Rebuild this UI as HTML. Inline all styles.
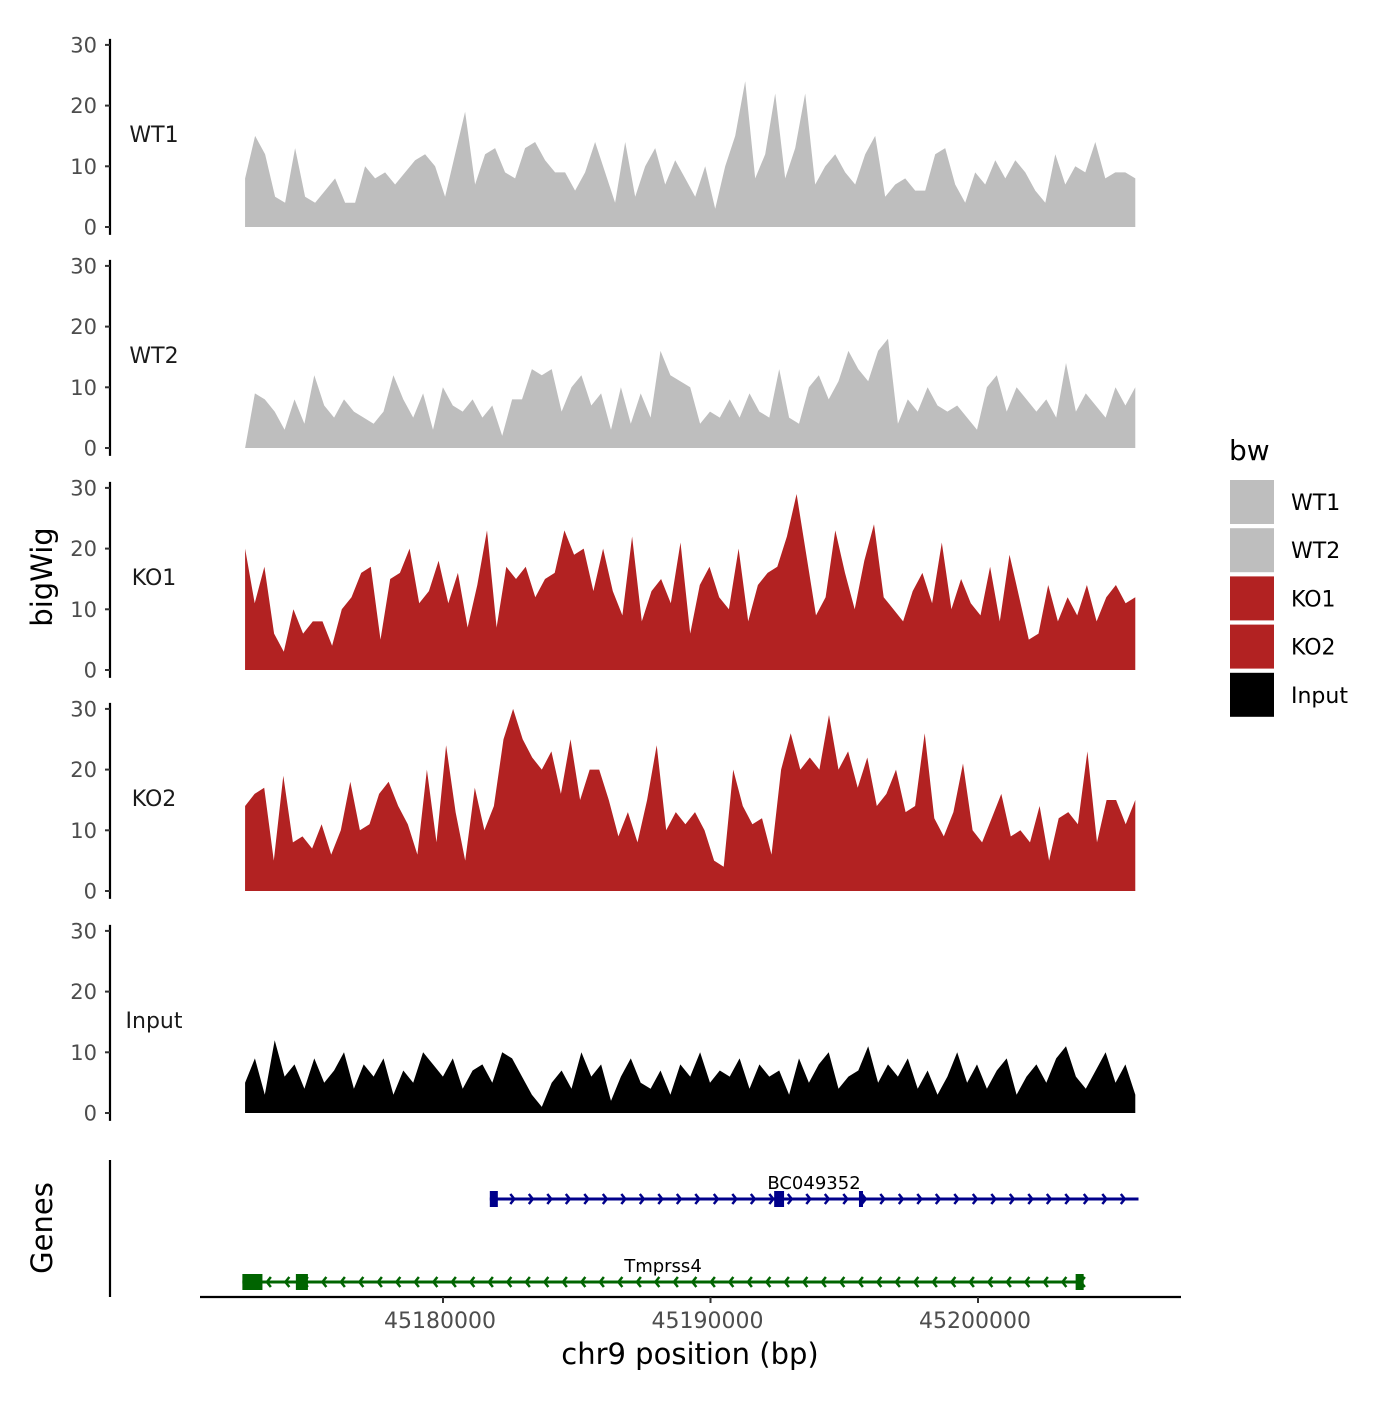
<!DOCTYPE html>
<html><head><meta charset="utf-8"><style>
body{margin:0;background:#fff}
svg text{font-family:"DejaVu Sans","Liberation Sans",sans-serif}
</style></head><body>
<svg id="chart" width="1400" height="1400" xmlns="http://www.w3.org/2000/svg"></svg>
<script>
const trackNames=["WT1","WT2","KO1","KO2","Input"];
const trackColors=["#bebebe","#bebebe","#b22222","#b22222","#000000"];
const wt1=[8,15,12,5,4,13,5,4,6,8,4,4,10,8,9,7,9,11,12,10,5,12,19,7,12,13,9,8,13,14,11,9,9,6,9,14,9,4,14,5,10,13,7,11,8,5,10,3,10,15,24,8,12,22,8,13,22,7,10,12,9,7,12,15,5,7,8,6,6,12,13,7,4,9,7,11,8,11,9,6,4,12,7,10,9,14,8,9,9,8];
const wt2=[0,9,8,6,3,8,4,12,7,5,8,6,5,4,6,12,8,5,9,3,10,7,6,8,5,7,2,8,8,13,12,13,6,10,12,7,9,3,10,4,9,5,16,12,11,10,4,6,5,8,5,9,6,5,13,5,4,10,12,8,11,16,13,11,16,18,4,8,6,10,7,6,7,5,3,10,12,6,10,8,6,8,5,14,6,9,7,5,10,7,10];
const ko1=[20,11,17,6,3,10,6,8,8,4,10,12,16,17,5,15,16,20,11,13,18,11,16,7,14,23,7,17,15,17,12,15,16,23,19,20,13,20,13,9,22,8,13,15,11,21,6,14,17,12,10,20,8,14,16,17,22,29,19,9,12,23,16,10,18,24,12,10,8,13,16,11,21,10,15,11,9,17,8,19,12,5,6,14,8,12,9,14,8,12,14,11,12];
const ko2=[14,16,17,5,19,8,9,7,11,6,10,18,10,11,16,18,14,11,6,20,8,24,13,5,17,10,14,25,30,25,22,20,23,16,25,15,20,20,15,9,13,8,15,24,10,13,11,13,10,5,4,20,14,11,12,6,20,26,20,22,20,29,20,23,17,22,14,16,20,13,14,26,12,9,13,21,10,8,12,16,9,10,8,14,5,12,13,11,23,8,15,15,11,15];
const inputSig=[5,9,3,12,6,8,4,9,5,7,10,4,8,6,9,3,7,5,10,8,6,9,4,7,8,5,10,9,6,3,1,5,7,4,10,6,8,2,6,9,5,4,7,3,8,6,10,5,7,6,9,4,8,6,7,3,9,5,8,10,4,6,7,11,5,8,6,9,4,7,3,6,10,5,8,4,7,9,3,6,8,5,9,11,6,4,7,10,5,8,3];
const seriesValues=[wt1,wt2,ko1,ko2,inputSig];
const yTicks=[0,10,20,30];
const xTicks=[45180000,45190000,45200000];
const signalStart=45172600, signalEnd=45205880;
const genes=["BC049352","Tmprss4"];
const geneStarts=[45181750,45172500];
const geneEnds=[45206000,45203900];
const geneStrands=[1,-1];
const geneColors=["#00008b","#006400"];
const exonStarts=[[45181750,45192380,45195550],[45172500,45174500,45203650]];
const exonEnds=[[45182050,45192750,45195700],[45173250,45174950,45203950]];

const NS="http://www.w3.org/2000/svg";
const svg=document.getElementById("chart");
function mk(tag,attrs,parent){const e=document.createElementNS(NS,tag);for(const k in attrs)e.setAttribute(k,attrs[k]);(parent||svg).appendChild(e);return e;}
function xScale(bp){return 443+(bp-45180000)*0.02675;}
const baselines=[227,448,670,891,1113];
function yScale(v,i){return baselines[i]-v*6.07;}

trackNames.forEach((nm,i)=>{
  const g=mk("g",{});
  
  
  const ax=mk("line",{x1:110,x2:110,y1:yScale(31,i),y2:yScale(-1.3,i),stroke:"#000","stroke-width":2.2},g);
  
  
  yTicks.forEach(t=>{
    mk("line",{x1:105,x2:110,y1:yScale(t,i),y2:yScale(t,i),stroke:"#333","stroke-width":2},g);
    const tx=mk("text",{x:97,y:yScale(t,i)+7.5,"text-anchor":"end","font-size":21,fill:"#4d4d4d"},g);
    tx.textContent=t;
    
    
  });
  const lb=mk("text",{x:154,y:baselines[i]-85,"text-anchor":"middle","font-size":22,fill:"#1a1a1a"},g);
  lb.textContent=nm;
  
  
  const vals=seriesValues[i];const n=vals.length;
  let d="M"+xScale(signalStart)+","+baselines[i];
  vals.forEach((v,k)=>{const bp=signalStart+(signalEnd-signalStart)*k/(n-1);d+=" L"+xScale(bp).toFixed(1)+","+yScale(v,i).toFixed(1);});
  d+=" L"+xScale(signalEnd)+","+baselines[i]+" Z";
  const p=mk("path",{d:d,fill:trackColors[i]},g);
  
  
});

const yt=mk("text",{x:0,y:0,transform:"translate(52,577) rotate(-90)","text-anchor":"middle","font-size":29,fill:"#000"});
yt.textContent="bigWig";


const gt=mk("text",{x:0,y:0,transform:"translate(52,1228) rotate(-90)","text-anchor":"middle","font-size":29,fill:"#000"});
gt.textContent="Genes";


const gax=mk("line",{x1:110,x2:110,y1:1160,y2:1297,stroke:"#000","stroke-width":2.2});



const geneY=[1199,1282];
genes.forEach((gn,i)=>{
  const g=mk("g",{});
  
  
  const y=geneY[i],c=geneColors[i],x1=xScale(geneStarts[i]),x2=xScale(geneEnds[i]);
  mk("line",{x1:x1,x2:x2,y1:y,y2:y,stroke:c,"stroke-width":3},g);
  for(let x=x1+6;x<=x2;x+=18.5){
    const s=geneStrands[i];
    mk("polyline",{points:`${x-4*s},${y-5} ${x},${y} ${x-4*s},${y+5}`,fill:"none",stroke:c,"stroke-width":2.5},g);
  }
  exonStarts[i].forEach((s,k)=>{
    const a=xScale(s),b=xScale(exonEnds[i][k]);
    mk("rect",{x:a,y:y-8,width:Math.max(b-a,3),height:16,fill:c},g);
  });
  const t=mk("text",{x:i==0?814:663,y:y-10,"text-anchor":"middle","font-size":18,fill:"#000"},g);
  t.textContent=gn;
  
  
});

const xa=mk("line",{x1:200,x2:1181,y1:1297,y2:1297,stroke:"#000","stroke-width":2.2});


xTicks.forEach(t=>{
  const x=xScale(t);
  mk("line",{x1:x,x2:x,y1:1297,y2:1303,stroke:"#333","stroke-width":2});
  const tx=mk("text",{x:x-3,y:1328,"text-anchor":"middle","font-size":22,fill:"#4d4d4d"});
  tx.textContent=t;
  
  
});
const xt=mk("text",{x:690,y:1364,"text-anchor":"middle","font-size":29,fill:"#000"});
xt.textContent="chr9 position (bp)";



const lt=mk("text",{x:1229,y:460,"font-size":28,fill:"#000"});
lt.textContent="bw";


trackNames.forEach((nm,i)=>{
  const g=mk("g",{});
  
  
  mk("rect",{x:1230,y:480+i*48.2,width:44,height:44,fill:trackColors[i]},g);
  const t=mk("text",{x:1291,y:510+i*48.2,"font-size":22,fill:"#000"},g);
  t.textContent=nm;
});
</script>
</body></html>
